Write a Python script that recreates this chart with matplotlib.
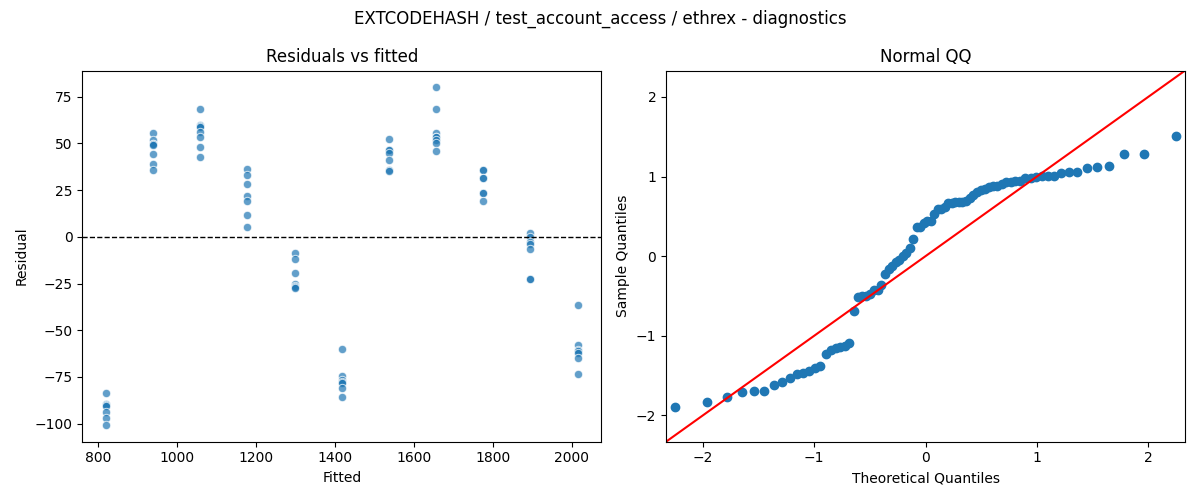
import matplotlib
matplotlib.use("Agg")
import matplotlib.pyplot as plt
import numpy as np
from statistics import NormalDist

# Fitted level of each group and residuals
fitted_levels = [820, 939, 1059, 1178, 1298, 1417, 1537, 1656, 1776, 1895, 2015]
resid_820 = [-83.6, -89.5, -90.0, -90.5, -93.8, -97.0, -100.7]
resid_939 = [55.5, 51.9, 49.7, 49.5, 49.2, 44.2, 38.9, 35.7]
resid_1059 = [68.3, 59.9, 59.2, 59.0, 56.0, 53.6, 48.3, 42.6]
resid_1178 = [36.4, 33.0, 28.2, 21.9, 19.1, 11.6, 5.3]
resid_1298 = [-8.6, -11.9, -19.3, -25.1, -26.2, -26.8, -27.4]
resid_1417 = [-59.9, -74.7, -76.5, -77.5, -78.2, -80.9, -85.7]
resid_1537 = [52.4, 46.5, 46.5, 44.8, 41.0, 35.8, 35.5]
resid_1656 = [80.0, 68.3, 55.8, 53.6, 53.6, 51.9, 50.1, 45.8]
resid_1776 = [36.0, 36.0, 31.7, 31.7, 23.7, 23.7, 19.3]
resid_1895 = [2.0, -0.2, -2.5, -3.9, -6.4, -22.5, -22.5]
resid_2015 = [-36.4, -57.8, -60.4, -61.0, -62.2, -64.9, -73.4]

groups = [resid_820, resid_939, resid_1059, resid_1178, resid_1298, resid_1417,
          resid_1537, resid_1656, resid_1776, resid_1895, resid_2015]

fitted = np.concatenate([[f] * len(g) for f, g in zip(fitted_levels, groups)])
resid = np.concatenate(groups)

# QQ from the residuals (residuals scaled by their root-mean-square)
z = resid / np.sqrt(np.mean(resid ** 2))
sample_q = np.sort(z)
n = len(sample_q)
nd = NormalDist()
theo_q = np.array([nd.inv_cdf(i / (n + 1)) for i in range(1, n + 1)])

fig, (ax1, ax2) = plt.subplots(1, 2, figsize=(12, 5), dpi=100)
fig.suptitle("EXTCODEHASH / test_account_access / ethrex - diagnostics", fontsize=12)

ax1.scatter(fitted, resid, s=36, color="#1f77b4", alpha=0.7, edgecolors="white", linewidths=0.75)
ax1.axhline(0, color="black", linestyle="--", linewidth=1)
ax1.set_title("Residuals vs fitted")
ax1.set_xlabel("Fitted")
ax1.set_ylabel("Residual")

ax2.plot(theo_q, sample_q, marker="o", linestyle="none", markersize=6,
         color="#1f77b4")
lim = (-2.33, 2.33)
ax2.plot(lim, lim, color="red")
ax2.set_xlim(lim)
ax2.set_ylim(lim)
ax2.set_xticks([-2, -1, 0, 1, 2])
ax2.set_yticks([-2, -1, 0, 1, 2])
ax2.set_title("Normal QQ")
ax2.set_xlabel("Theoretical Quantiles")
ax2.set_ylabel("Sample Quantiles")

fig.tight_layout()
fig.savefig("out.png")
